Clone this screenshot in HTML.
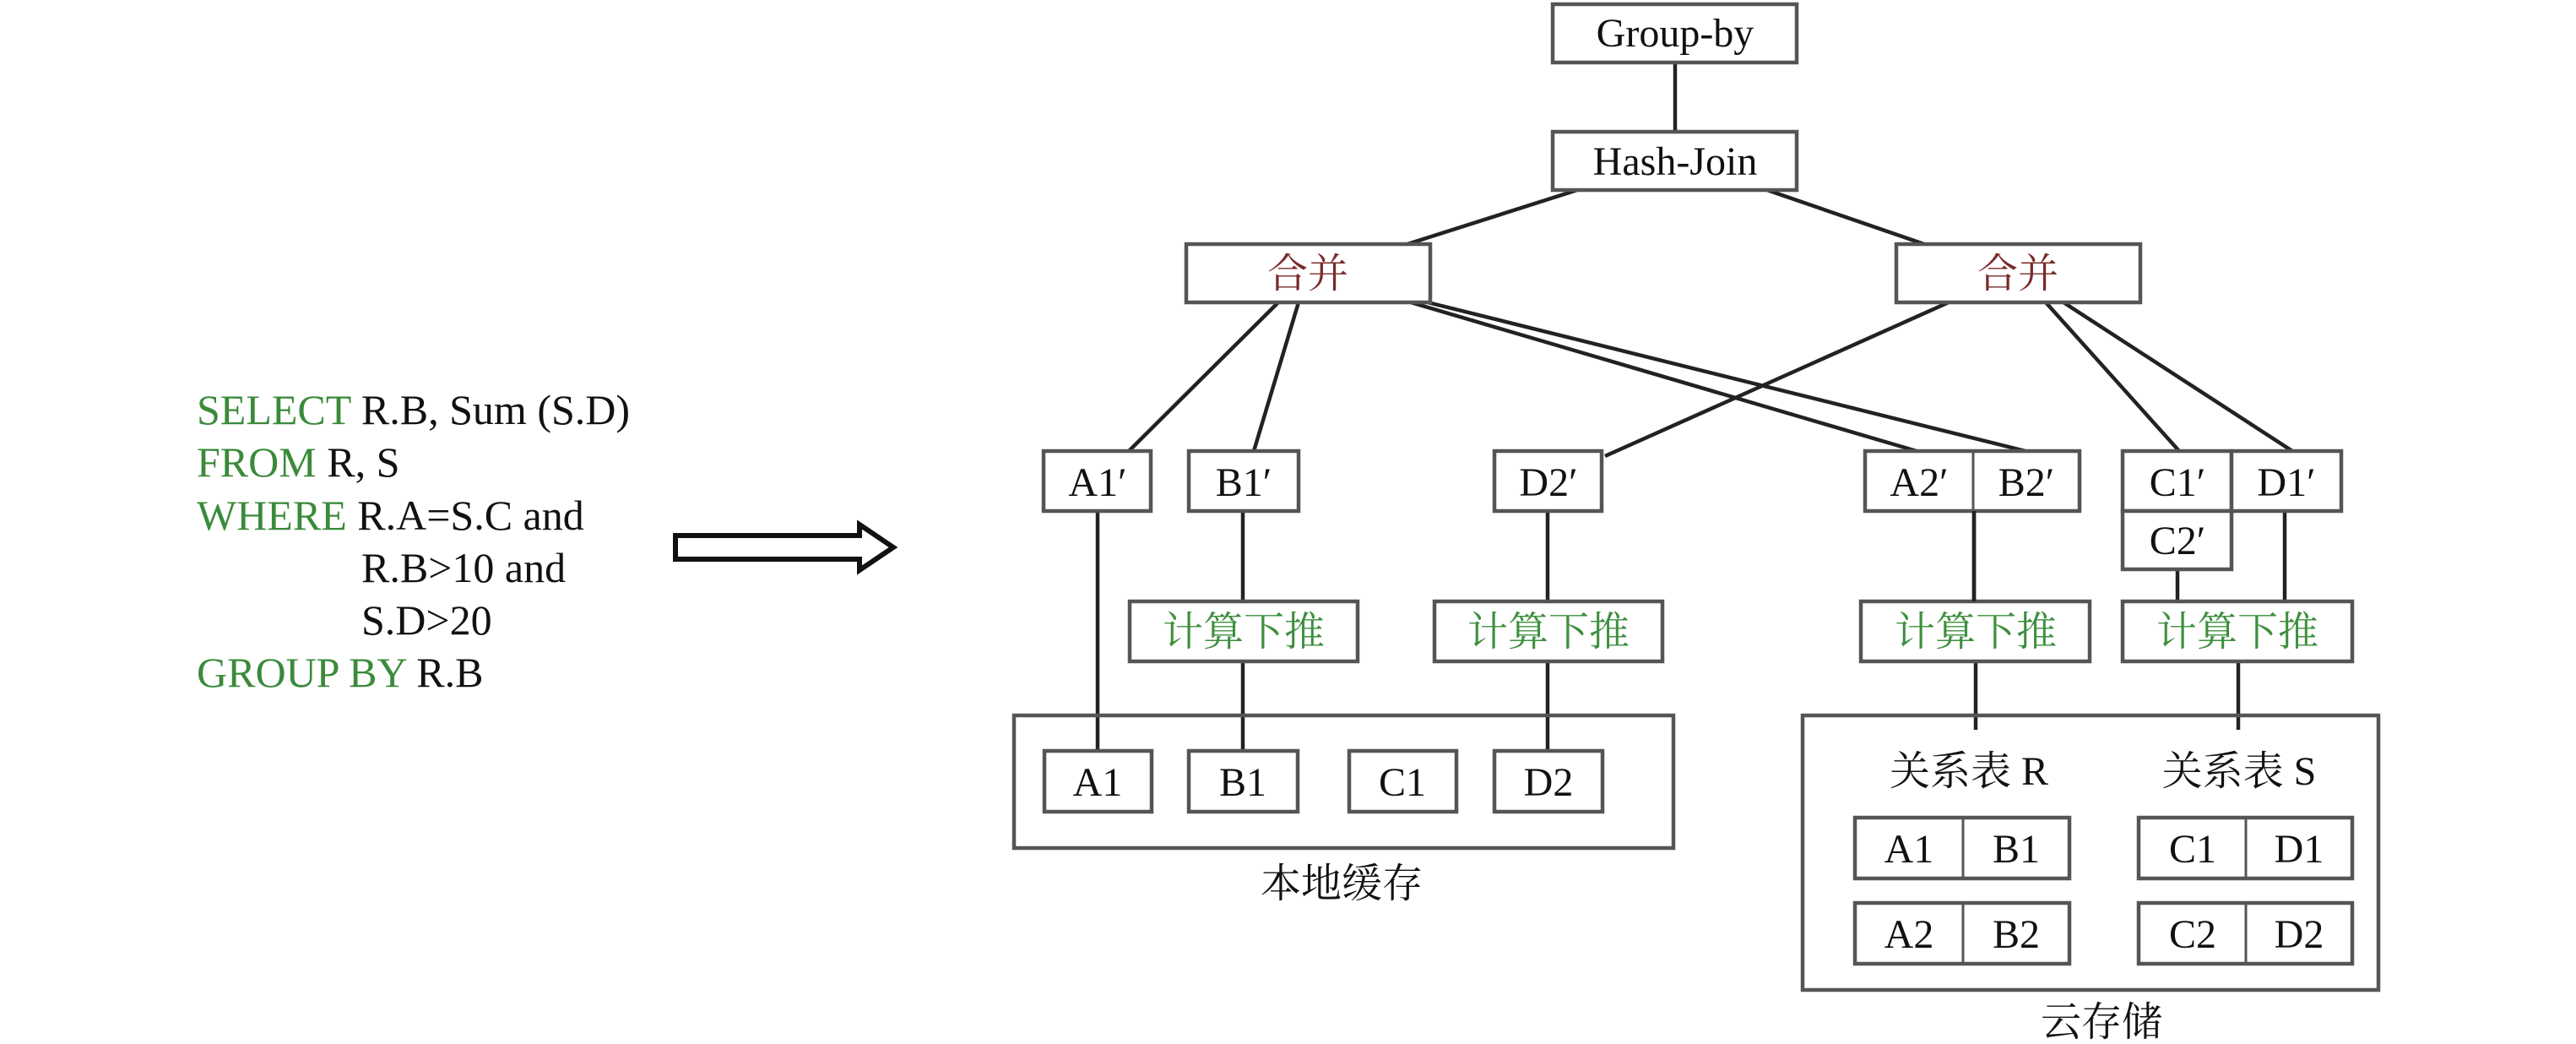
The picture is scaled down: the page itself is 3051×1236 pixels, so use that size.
<!DOCTYPE html>
<html><head><meta charset="utf-8"><style>
html,body{margin:0;padding:0;background:#fff;}
svg{display:block;}
text{font-family:"Liberation Serif","Noto Serif CJK SC","Noto Sans CJK SC",serif;}
</style></head><body>
<svg width="3051" height="1236" viewBox="0 0 3051 1236" xmlns="http://www.w3.org/2000/svg">
<g font-size="50" fill="#111">
<text x="233" y="502"><tspan fill="#3a8a3a">SELECT</tspan> R.B, Sum (S.D)</text>
<text x="233" y="564"><tspan fill="#3a8a3a">FROM</tspan> R, S</text>
<text x="233" y="627"><tspan fill="#3a8a3a">WHERE</tspan> R.A=S.C and</text>
<text x="428" y="689">R.B&gt;10 and</text>
<text x="428" y="751">S.D&gt;20</text>
<text x="233" y="813"><tspan fill="#3a8a3a">GROUP BY</tspan> R.B</text>
</g>
<path d="M800 634 H1018 V621 L1058 648 L1018 675 V662 H800 Z" fill="none" stroke="#111" stroke-width="6" stroke-linejoin="miter"/>
<g stroke="#222" stroke-width="4.5" fill="none">
<line x1="1984" y1="74" x2="1984" y2="154"/>
<line x1="1868" y1="225" x2="1667" y2="289"/>
<line x1="2093" y1="225" x2="2279" y2="289"/>
<line x1="1514" y1="358" x2="1337" y2="534"/>
<line x1="1538" y1="358" x2="1485" y2="534"/>
<line x1="1671" y1="358" x2="2270" y2="534"/>
<line x1="1691" y1="358" x2="2399" y2="534"/>
<line x1="2308" y1="358" x2="1901" y2="540"/>
<line x1="2423" y1="358" x2="2581" y2="534"/>
<line x1="2444" y1="358" x2="2715" y2="534"/>
<line x1="1300" y1="605" x2="1300" y2="889"/>
<line x1="1472" y1="605" x2="1472" y2="889"/>
<line x1="1833" y1="605" x2="1833" y2="889"/>
<line x1="2338" y1="605" x2="2338" y2="712"/>
<line x1="2579" y1="674" x2="2579" y2="712"/>
<line x1="2706" y1="605" x2="2706" y2="712"/>
<line x1="2340" y1="783" x2="2340" y2="864"/>
<line x1="2651" y1="783" x2="2651" y2="864"/>
</g>
<g fill="#fff" stroke="#555" stroke-width="4.5">
<rect x="1839" y="5" width="289" height="69"/>
<rect x="1839" y="156" width="289" height="69"/>
<rect x="1405" y="289" width="289" height="69"/>
<rect x="2246" y="289" width="289" height="69"/>
<rect x="1236" y="534" width="127" height="71"/>
<rect x="1408" y="534" width="130" height="71"/>
<rect x="1770" y="534" width="127" height="71"/>
<rect x="2209" y="534" width="254" height="71"/>
<rect x="2514" y="534" width="129" height="71"/>
<rect x="2643" y="534" width="130" height="71"/>
<rect x="2514" y="605" width="129" height="69"/>
<rect x="1338" y="712" width="270" height="71"/>
<rect x="1699" y="712" width="270" height="71"/>
<rect x="2204" y="712" width="271" height="71"/>
<rect x="2514" y="712" width="272" height="71"/>
<rect x="1201" y="847" width="781" height="157" fill="none"/>
<rect x="2135" y="847" width="682" height="325" fill="none"/>
<rect x="1237" y="889" width="127" height="72"/>
<rect x="1408" y="889" width="129" height="72"/>
<rect x="1598" y="889" width="127" height="72"/>
<rect x="1770" y="889" width="128" height="72"/>
<rect x="2197" y="968" width="254" height="72"/>
<rect x="2197" y="1069" width="254" height="72"/>
<rect x="2533" y="968" width="253" height="72"/>
<rect x="2533" y="1069" width="253" height="72"/>
</g>
<g stroke="#555" stroke-width="3">
<line x1="2337" y1="534" x2="2337" y2="605"/>
<line x1="2325" y1="968" x2="2325" y2="1040"/>
<line x1="2325" y1="1069" x2="2325" y2="1141"/>
<line x1="2660" y1="968" x2="2660" y2="1040"/>
<line x1="2660" y1="1069" x2="2660" y2="1141"/>
</g>
<line x1="2338" y1="605" x2="2338" y2="712" stroke="#222" stroke-width="4.5"/>
<g font-size="48" fill="#111" text-anchor="middle">
<text x="1984" y="55">Group-by</text>
<text x="1984" y="207">Hash-Join</text>
<text x="1300" y="587">A1′</text>
<text x="1473" y="587">B1′</text>
<text x="1834" y="587">D2′</text>
<text x="2273" y="587">A2′</text>
<text x="2400" y="587">B2′</text>
<text x="2579" y="587">C1′</text>
<text x="2708" y="587">D1′</text>
<text x="2579" y="656">C2′</text>
<text x="1300" y="942">A1</text>
<text x="1472" y="942">B1</text>
<text x="1661" y="942">C1</text>
<text x="1834" y="942">D2</text>
<text x="2261" y="1021">A1</text>
<text x="2388" y="1021">B1</text>
<text x="2597" y="1021">C1</text>
<text x="2723" y="1021">D1</text>
<text x="2261" y="1122">A2</text>
<text x="2388" y="1122">B2</text>
<text x="2597" y="1122">C2</text>
<text x="2723" y="1122">D2</text>
<text x="2332" y="929">关系表 R</text>
<text x="2652" y="929">关系表 S</text>
<text x="1589" y="1062">本地缓存</text>
<text x="2489" y="1226">云存储</text>
</g>
<g font-size="48" fill="#7a2a2a" text-anchor="middle">
<text x="1549" y="340">合并</text>
<text x="2390" y="340">合并</text>
</g>
<g font-size="48" fill="#3d8f3d" text-anchor="middle">
<text x="1473" y="764">计算下推</text>
<text x="1834" y="764">计算下推</text>
<text x="2340" y="764">计算下推</text>
<text x="2650" y="764">计算下推</text>
</g>
</svg>
</body></html>
